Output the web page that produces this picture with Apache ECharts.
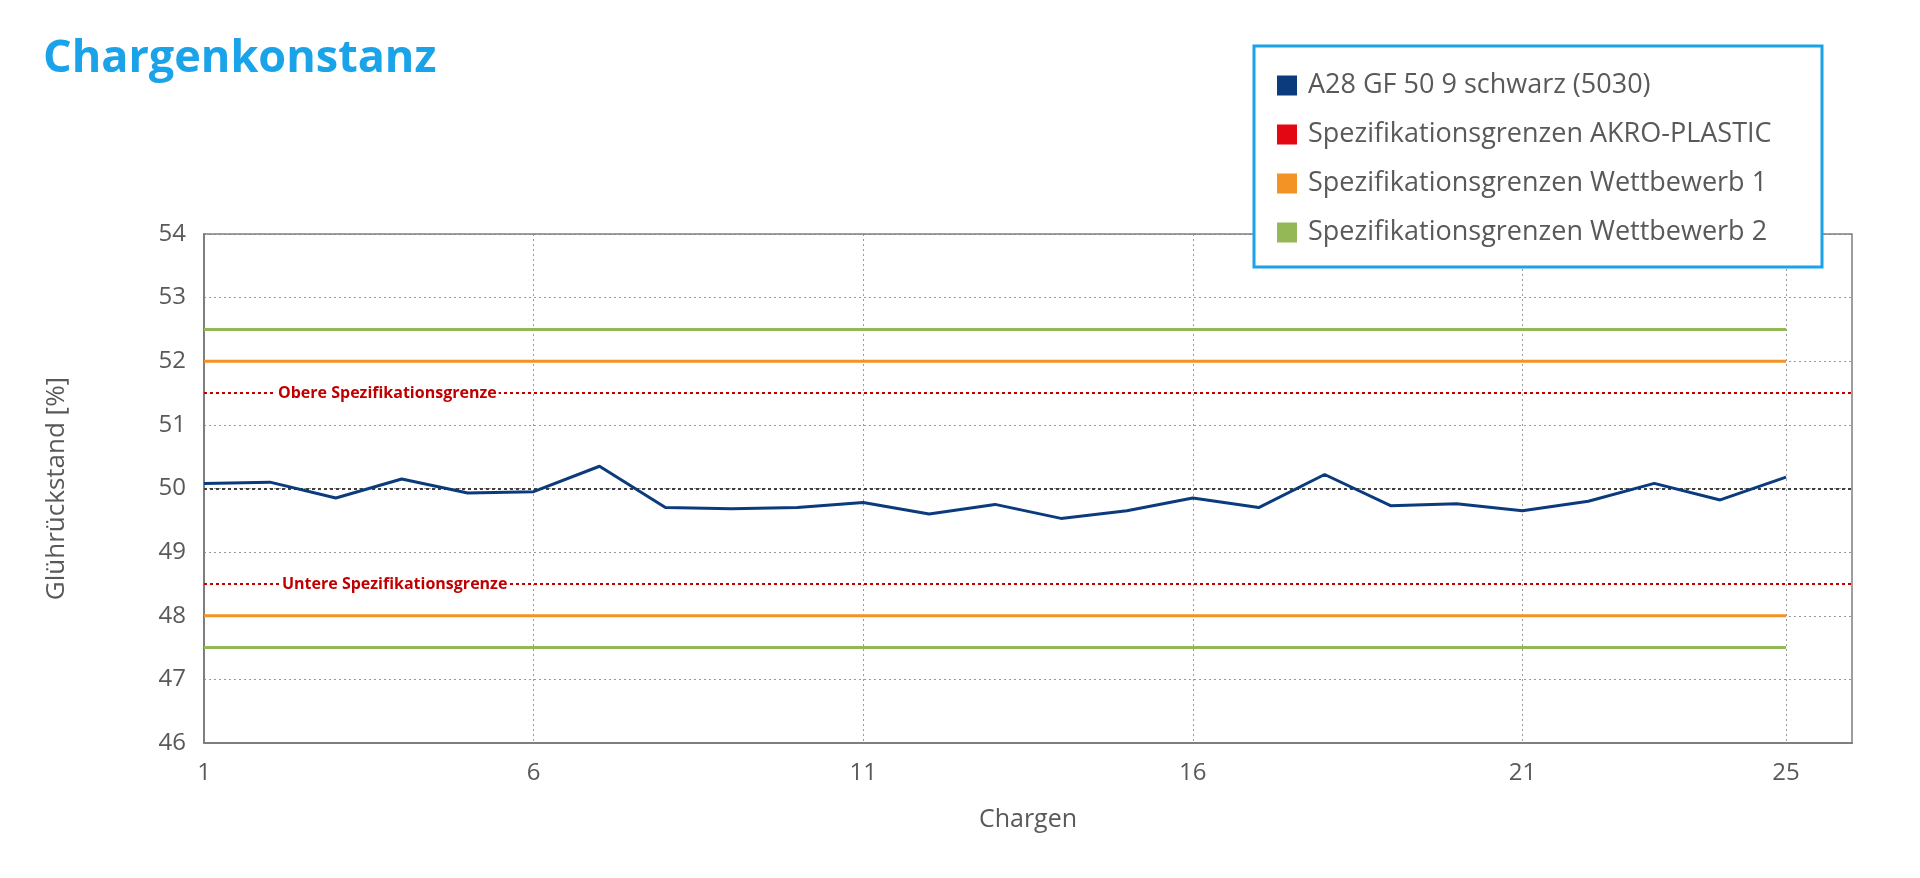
<!DOCTYPE html>
<html><head><meta charset="utf-8">
<script src="https://cdn.jsdelivr.net/npm/echarts@6/dist/echarts.min.js"></script>
<style>html,body{margin:0;background:#fff}#c{width:1920px;height:878px}</style>
</head><body><div id="c"></div>
<script>
// Chargen 1..26 (26 = Rand der Achse)
var chargen=[];for(var i=1;i<=26;i++)chargen.push(String(i));
var xLabels=['1','6','11','16','21','25'];
var gluehrueckstand=[50.08,50.1,49.85,50.15,49.93,49.95,50.35,49.7,49.68,49.7,49.78,49.6,49.75,49.53,49.65,49.85,49.7,50.22,49.73,49.76,49.65,49.8,50.08,49.82,50.18];
var akroGrenzen=[51.5,48.5];
var wett1Grenzen=[52,48];
var wett2Grenzen=[52.5,47.5];
var sollwert=50;

var FONT='Open Sans';
var GREY='#595959';
function flat(v,n){var a=[];for(var i=0;i<n;i++)a.push(v);return a;}
function limitSeries(name,vals,color){
 return vals.map(function(v){return {name:name,type:'line',data:flat(v,25),symbol:'none',
  lineStyle:{color:color,width:3},itemStyle:{color:color},z:2};});
}
var series=[
 {name:'A28 GF 50 9 schwarz (5030)',type:'line',data:gluehrueckstand,symbol:'none',
  lineStyle:{color:'#0b3b7c',width:3},itemStyle:{color:'#0b3b7c'},z:5},
 {name:'Spezifikationsgrenzen AKRO-PLASTIC',type:'line',data:[],itemStyle:{color:'#e30613'}},
 {name:'Spezifikationsgrenzen Wettbewerb 1',type:'line',data:[],itemStyle:{color:'#f39325'}},
 {name:'Spezifikationsgrenzen Wettbewerb 2',type:'line',data:[],itemStyle:{color:'#95b856'}},
 {name:'marks',type:'line',data:[],markLine:{silent:true,symbol:'none',
  data:[
   {yAxis:akroGrenzen[0],lineStyle:{color:'#c00000',type:[3,3],width:2},
    label:{show:true,position:'insideStartTop',formatter:'Obere Spezifikationsgrenze',color:'#c00000',fontWeight:'bold',fontSize:16,fontFamily:FONT,backgroundColor:'#fff',distance:[72,-10],padding:[2,2]}},
   {yAxis:akroGrenzen[1],lineStyle:{color:'#c00000',type:[3,3],width:2},
    label:{show:true,position:'insideStartTop',formatter:'Untere Spezifikationsgrenze',color:'#c00000',fontWeight:'bold',fontSize:16,fontFamily:FONT,backgroundColor:'#fff',distance:[76,-10],padding:[2,2]}},
   {yAxis:sollwert,lineStyle:{color:'#404040',type:[3,3],width:2},label:{show:false}}
  ]}}
].concat(limitSeries('Spezifikationsgrenzen Wettbewerb 1',wett1Grenzen,'#f39325'))
 .concat(limitSeries('Spezifikationsgrenzen Wettbewerb 2',wett2Grenzen,'#95b856'));

var chart=echarts.init(document.getElementById('c'));
chart.setOption({
 animation:false,
 textStyle:{fontFamily:FONT},
 title:{text:'Chargenkonstanz',left:38,top:32,textStyle:{color:'#1aa3e8',fontSize:45,fontWeight:'bold',fontFamily:FONT}},
 graphic:[
  {type:'rect',shape:{x:1254,y:46,width:568,height:221},style:{fill:'#fff',stroke:'#1aa3e8',lineWidth:3},z:10},
  {type:'rect',shape:{x:204,y:234,width:1648,height:509},style:{fill:'none',stroke:'#7f7f7f',lineWidth:1.5},z:1}
 ],
 legend:{orient:'vertical',left:1272,top:67,itemGap:22,icon:'rect',itemWidth:20,itemHeight:20,z:11,
  data:['A28 GF 50 9 schwarz (5030)','Spezifikationsgrenzen AKRO-PLASTIC','Spezifikationsgrenzen Wettbewerb 1','Spezifikationsgrenzen Wettbewerb 2'],
  textStyle:{color:GREY,fontSize:27,fontFamily:FONT,padding:[0,0,0,6]}},
 grid:{left:204,right:68,top:234,bottom:135},
 xAxis:{type:'category',data:chargen,boundaryGap:false,name:'Chargen',nameLocation:'middle',nameGap:64,
  nameTextStyle:{color:GREY,fontSize:25},
  axisLine:{lineStyle:{color:'#7f7f7f',width:2}},axisTick:{show:false},
  axisLabel:{color:GREY,fontSize:24,margin:18,interval:function(i,v){return xLabels.indexOf(v)>=0;}},
  splitLine:{show:true,interval:function(i,v){return xLabels.indexOf(v)>=0&&v!=='1';},lineStyle:{color:'#9a9a9a',type:[2,3]}}},
 yAxis:{type:'value',min:46,max:54,interval:1,name:'Glührückstand [%]',nameLocation:'middle',nameGap:134,
  nameTextStyle:{color:GREY,fontSize:26},
  axisLine:{show:true,lineStyle:{color:'#7f7f7f',width:2}},axisTick:{show:false},
  axisLabel:{color:GREY,fontSize:24,margin:18},
  splitLine:{lineStyle:{color:'#9a9a9a',type:[2,3]}}},
 series:series
});
</script></body></html>
